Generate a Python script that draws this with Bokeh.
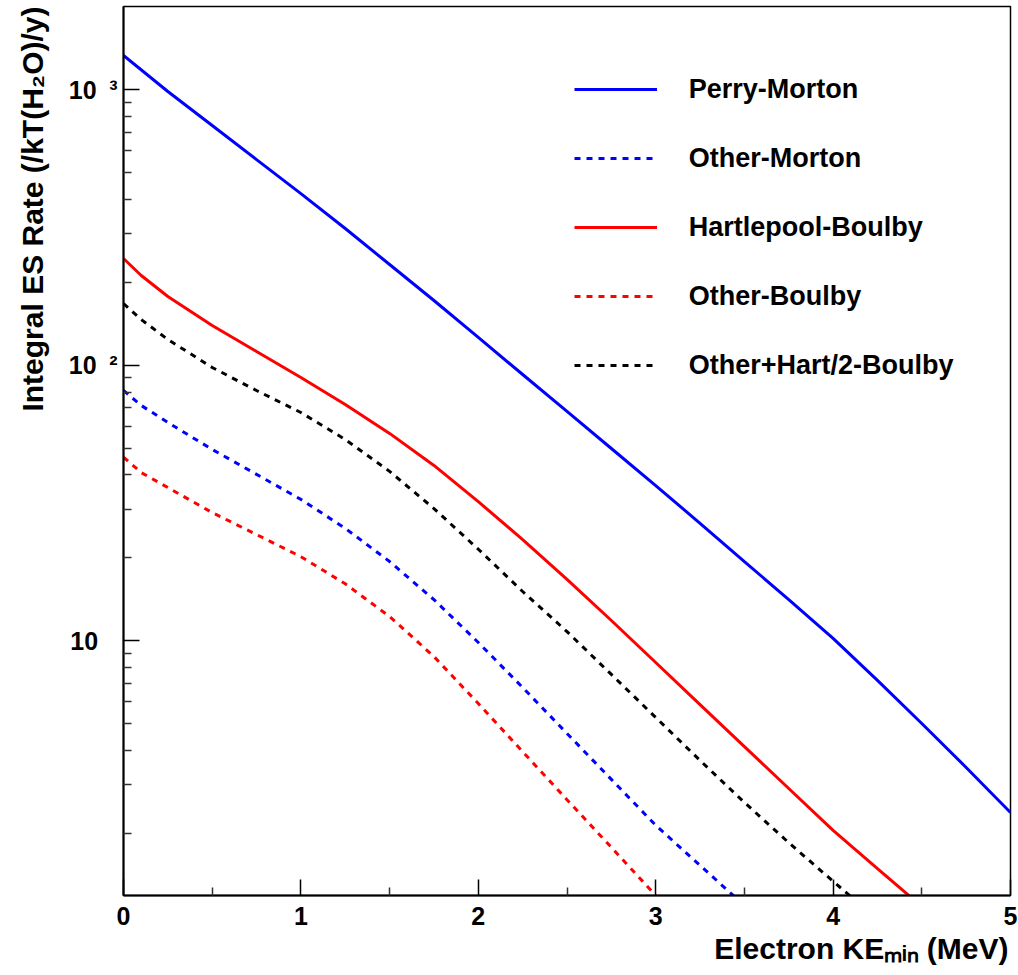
from bokeh.plotting import figure
from bokeh.models import Range1d, FixedTicker, Legend, LegendItem, Title
from bokeh.embed import file_html
from bokeh.resources import INLINE

# ---------------- data ----------------
q = [0, 0.25, 0.5, 0.75, 1, 1.25, 1.5, 1.75, 2, 2.25, 2.5, 2.75, 3,
     3.25, 3.5, 3.75, 4, 4.25, 4.5, 4.75, 5]

x_perry = q
perry_morton = [1332, 986, 742, 558, 420, 313.7, 232.2, 171.9, 126.2, 92.6,
                68.0, 49.9, 36.6, 26.7, 19.4, 14.1, 10.2, 7.18, 5.01, 3.47, 2.38]

x_other_m = [0, 0.1] + q[1:15]
other_morton = [81.0, 71.5, 62.0, 49.5, 40.2, 32.6, 25.6, 19.4, 14.1, 9.86,
                6.77, 4.61, 3.14, 2.14, 1.53, 1.094]

x_hart = [0, 0.1] + q[1:19]
hartlepool_boulby = [244.1, 211.8, 177.7, 139.5, 112.2, 90.3, 72.1, 56.6, 43.3,
                     32.0, 23.3, 16.7, 11.85, 8.34, 5.87, 4.13, 2.91, 2.05,
                     1.49, 1.085]

x_other_b = [0, 0.1] + q[1:13]
other_boulby = [46.4, 40.8, 36.0, 29.2, 24.3, 20.2, 16.1, 12.25, 8.77, 5.92,
                3.96, 2.65, 1.78, 1.19]

x_mix = [0, 0.1] + q[1:18]
other_hart2_boulby = [167.6, 146.6, 124.1, 98.2, 81.0, 67.4, 53.8, 41.2, 30.2,
                      21.5, 15.1, 10.8, 7.55, 5.27, 3.68, 2.59, 1.85, 1.34, 0.974]

series_labels = ["Perry-Morton", "Other-Morton", "Hartlepool-Boulby",
                 "Other-Boulby", "Other+Hart/2-Boulby"]
x_ticks = [0, 1, 2, 3, 4, 5]
x_minor = [0.5, 1.5, 2.5, 3.5, 4.5]
y_ticks = [10, 100, 1000]
y_minor = [2, 3, 4, 5, 6, 7, 8, 9, 20, 30, 40, 50, 60, 70, 80, 90,
           200, 300, 400, 500, 600, 700, 800, 900]
# "10", "10^2", "10^3" in ROOT style (en space before the exponent;
# the plain "10" gets the same trailing width so all mantissas line up)
y_tick_labels = {10: "10\u2002\u2008", 100: "10\u2002\u00b2", 1000: "10\u2002\u00b3"}
x_title = "Electron KE\u2098\u1d62\u2099 (MeV)"
y_title = "Integral ES Rate (/kT(H\u2082O)/y)"

X_MIN, X_MAX = 0, 5
Y_MIN, Y_MAX = 1.19, 2006

FONT = "Liberation Sans"

p = figure(width=1018, height=975, y_axis_type="log",
           x_range=Range1d(X_MIN, X_MAX), y_range=Range1d(Y_MIN, Y_MAX),
           output_backend="svg", toolbar_location=None, title=None,
           min_border_left=121, min_border_right=8, min_border_top=6,
           min_border_bottom=80)

p.background_fill_color = "white"
p.border_fill_color = "white"
p.outline_line_color = "black"
p.outline_line_width = 1.5
p.xgrid.visible = False
p.ygrid.visible = False

xax = p.xaxis[0]
yax = p.yaxis[0]
for ax in (xax, yax):
    ax.axis_line_color = "black"
    ax.axis_line_width = 2
    ax.major_tick_in = 16
    ax.major_tick_out = 0
    ax.minor_tick_in = 8
    ax.minor_tick_out = 0
    ax.major_tick_line_color = "black"
    ax.major_tick_line_width = 1.5
    ax.minor_tick_line_color = "#333333"
    ax.minor_tick_line_width = 1.5
    ax.major_label_text_font = FONT
    ax.major_label_text_font_style = "bold"
    ax.major_label_text_font_size = "25px"
    ax.major_label_text_color = "black"

xax.ticker = FixedTicker(ticks=x_ticks, minor_ticks=x_minor)
xax.major_label_standoff = 11
yax.ticker = FixedTicker(ticks=y_ticks, minor_ticks=y_minor)
yax.major_label_overrides = y_tick_labels
yax.major_label_standoff = 6

# axis titles, aligned to the far end of each axis (ROOT style)
p.add_layout(Title(text=x_title, align="right", offset=2, standoff=5,
                   text_font=FONT, text_font_style="bold",
                   text_font_size="30px", text_color="black"), "below")
p.add_layout(Title(text=y_title, align="right", offset=0, standoff=30,
                   vertical_align="top",
                   text_font=FONT, text_font_style="bold",
                   text_font_size="30px", text_color="black"), "left")

# curves
r1 = p.line(x_perry, perry_morton, line_color="#0000ff", line_width=3)
r2 = p.line(x_other_m, other_morton, line_color="#0000ff", line_width=3, line_dash="6 6")
r3 = p.line(x_hart, hartlepool_boulby, line_color="#ff0000", line_width=3)
r4 = p.line(x_other_b, other_boulby, line_color="#ff0000", line_width=3, line_dash="6 6")
r5 = p.line(x_mix, other_hart2_boulby, line_color="black", line_width=3, line_dash="6 6")

items = [LegendItem(label=lab, renderers=[r]) for lab, r in
         zip(series_labels, [r1, r2, r3, r4, r5])]
legend = Legend(items=items, location=(450.7, 513.7), glyph_width=83,
                glyph_height=32, label_height=32, spacing=37, padding=0,
                margin=0, label_standoff=32, label_text_font=FONT,
                label_text_font_style="bold", label_text_font_size="27px",
                label_text_color="black", border_line_alpha=0,
                background_fill_alpha=0)
p.add_layout(legend)

open("out.html", "w").write(file_html(p, INLINE))
